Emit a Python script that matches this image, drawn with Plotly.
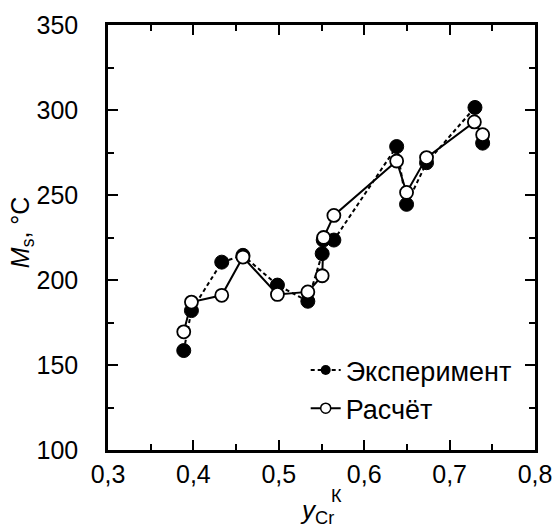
import plotly.graph_objects as go

# Data
x_exp = [0.3887, 0.3977, 0.4332, 0.458, 0.4984, 0.534, 0.5508, 0.552, 0.5645, 0.638, 0.6496, 0.673, 0.7297, 0.7387]
y_exp = [158.5, 182, 210.5, 214.5, 197, 187.5, 215.5, 223.5, 223.5, 278.5, 244.5, 269, 301.5, 280.5]
x_calc = [0.3887, 0.3977, 0.4332, 0.458, 0.4984, 0.534, 0.5508, 0.5525, 0.5645, 0.638, 0.6496, 0.673, 0.729, 0.7387]
y_calc = [169.5, 187, 191, 213.5, 191.5, 193, 202.5, 225, 238, 270, 251.5, 272, 293, 285.5]

x_ticks = [0.3, 0.4, 0.5, 0.6, 0.7, 0.8]
x_ticktext = ["0,3", "0,4", "0,5", "0,6", "0,7", "0,8"]
y_ticks = [100, 150, 200, 250, 300, 350]
y_ticktext = ["100", "150", "200", "250", "300", "350"]

FONT = "Liberation Sans, Arial, sans-serif"
exp_line = dict(color="black", width=2, dash="4px,3px")
calc_line = dict(color="black", width=2)

fig = go.Figure()
fig.add_trace(go.Scatter(
    x=x_exp, y=y_exp, mode="lines+markers", name="Эксперимент", showlegend=False,
    line=exp_line,
    marker=dict(symbol="circle", size=14, color="black", line=dict(color="black", width=1)),
))
fig.add_trace(go.Scatter(
    x=x_calc, y=y_calc, mode="lines+markers", name="Расчёт", showlegend=False,
    line=calc_line,
    marker=dict(symbol="circle", size=13, color="white", line=dict(color="black", width=1.8)),
))
# legend entries (smaller symbols, as in the reference)
fig.add_trace(go.Scatter(
    x=[None], y=[None], mode="lines+markers", name="Эксперимент",
    line=exp_line, marker=dict(symbol="circle", size=10, color="black"),
))
fig.add_trace(go.Scatter(
    x=[None], y=[None], mode="lines+markers", name="Расчёт",
    line=calc_line, marker=dict(symbol="circle", size=10, color="white", line=dict(color="black", width=1.5)),
))

axis_common = dict(
    showline=True, linecolor="black", linewidth=2.5, mirror="ticks",
    ticks="inside", ticklen=10, tickwidth=2, tickcolor="black",
    showgrid=False, zeroline=False, automargin=False,
    tickfont=dict(family=FONT, size=25, color="black"),
)

fig.update_xaxes(
    range=[0.3, 0.8], tickvals=x_ticks, ticktext=x_ticktext,
    ticklabelstandoff=0,
    minor=dict(tickvals=[0.35, 0.45, 0.55, 0.65, 0.75], ticklen=6, tickwidth=2, tickcolor="black", ticks="inside"),
    **axis_common,
)
fig.update_yaxes(
    range=[100, 350], tickvals=y_ticks, ticktext=y_ticktext,
    ticklabelstandoff=22,
    minor=dict(tickvals=[125, 175, 225, 275, 325], ticklen=6, tickwidth=2, tickcolor="black", ticks="inside"),
    **axis_common,
)

fig.add_annotation(
    text="<i>M</i><sub>s</sub>, °C", xref="paper", yref="paper",
    x=-0.201, y=0.513, xanchor="center", yanchor="middle", textangle=-90, showarrow=False,
    font=dict(family=FONT, size=25, color="black"),
)
fig.add_annotation(
    text="<i>y</i><sub>Cr</sub>", xref="paper", yref="paper",
    x=0.489, y=-0.145, xanchor="center", yanchor="middle", showarrow=False,
    font=dict(family=FONT, size=26, color="black"),
)
fig.add_annotation(
    text="К", xref="paper", yref="paper",
    x=0.534, y=-0.108, xanchor="center", yanchor="middle", showarrow=False,
    font=dict(family=FONT, size=18, color="black"),
)

fig.update_layout(
    width=555, height=527,
    margin=dict(l=108, r=20, t=25, b=77),
    paper_bgcolor="white", plot_bgcolor="white",
    showlegend=True,
    legend=dict(
        x=0.463, y=0.04, xanchor="left", yanchor="bottom",
        bgcolor="rgba(0,0,0,0)", borderwidth=0,
        font=dict(family=FONT, size=27, color="black"),
        tracegroupgap=0,
    ),
    font=dict(family=FONT, color="black"),
)

fig.write_html("out.html")
